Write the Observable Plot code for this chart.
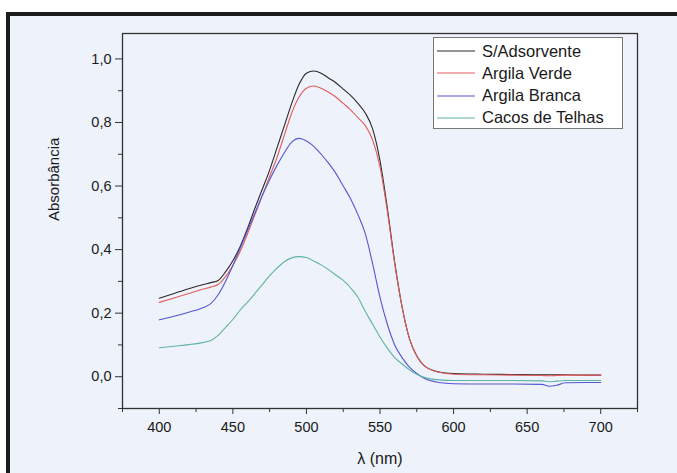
<!DOCTYPE html>
<html>
<head>
<meta charset="utf-8">
<script src="https://cdn.jsdelivr.net/npm/d3@7"></script>
<script src="https://cdn.jsdelivr.net/npm/@observablehq/plot@0.6"></script>
<style>
  html, body { margin: 0; padding: 0; background: #eef2fa; overflow: hidden; width: 677px; height: 473px; }
  #wrap { position: relative; width: 677px; height: 473px; overflow: hidden; font-family: "Liberation Sans", Arial, sans-serif; background: #eef2fa; }
  .white { position: absolute; background: #ffffff; }
  .black { position: absolute; background: #1c1c1c; }
  .cover { position: absolute; background: #eef2fa; z-index: 5; }
  #chart { position: absolute; left: 0; top: 0; }
  #legend { position: absolute; left: 433px; top: 37px; width: 188px; height: 90px; border: 1px solid #777; background: #ffffff; }
  .row { position: absolute; left: 0; height: 22px; display: flex; align-items: center; }
  .row svg { margin-left: 3px; }
  .row span { margin-left: 7px; font-size: 16.5px; color: #1a1a1a; white-space: nowrap; }
  .ticklab text { font-size: 14.5px; }
</style>
</head>
<body>
<div id="wrap">
  <div class="white" style="left:0;top:0;width:677px;height:12px"></div>
  <div class="white" style="left:0;top:0;width:6px;height:473px"></div>
  <div class="black" style="left:6px;top:12px;width:671px;height:4px"></div>
  <div class="black" style="left:6px;top:12px;width:4px;height:461px"></div>
  <div id="chart"></div>
  <div id="legend"></div>
  <div class="cover" style="left:650px;top:16px;width:27px;height:457px"></div>
</div>
<script>
const lambda = [400,410,420,430,435,440,445,450,455,460,465,470,475,480,485,490,495,500,505,510,515,520,525,530,535,540,545,550,555,560,565,570,575,580,590,600,620,640,660,665,670,676,690,700];
const sAdsorvente = [0.247,0.262,0.277,0.290,0.296,0.303,0.330,0.365,0.410,0.467,0.530,0.590,0.650,0.720,0.790,0.860,0.920,0.955,0.962,0.955,0.940,0.925,0.905,0.885,0.860,0.830,0.780,0.680,0.530,0.360,0.220,0.120,0.065,0.035,0.015,0.010,0.008,0.007,0.006,0.006,0.006,0.006,0.005,0.005];
const argilaVerde = [0.234,0.248,0.262,0.276,0.282,0.290,0.315,0.350,0.395,0.450,0.510,0.570,0.630,0.690,0.760,0.830,0.880,0.908,0.915,0.908,0.895,0.880,0.860,0.840,0.815,0.790,0.745,0.660,0.520,0.355,0.220,0.120,0.065,0.035,0.014,0.008,0.006,0.005,0.004,0.003,0.004,0.005,0.005,0.005];
const argilaBranca = [0.179,0.190,0.203,0.218,0.230,0.258,0.300,0.350,0.405,0.460,0.515,0.570,0.620,0.665,0.705,0.738,0.750,0.742,0.725,0.700,0.672,0.640,0.600,0.560,0.510,0.450,0.355,0.250,0.165,0.100,0.060,0.030,0.010,-0.005,-0.018,-0.022,-0.023,-0.023,-0.024,-0.030,-0.027,-0.019,-0.018,-0.018];
const cacosTelhas = [0.091,0.096,0.101,0.108,0.114,0.130,0.155,0.180,0.210,0.235,0.262,0.290,0.318,0.342,0.362,0.374,0.378,0.375,0.364,0.352,0.337,0.320,0.303,0.280,0.250,0.205,0.165,0.125,0.090,0.060,0.040,0.022,0.008,-0.002,-0.010,-0.012,-0.012,-0.012,-0.013,-0.016,-0.014,-0.012,-0.012,-0.012];

const seriesNames = ["S/Adsorvente", "Argila Verde", "Argila Branca", "Cacos de Telhas"];
const seriesColors = ["#2a2a2a", "#e45c5c", "#5656d4", "#5fb2a6"];
const seriesValues = [sAdsorvente, argilaVerde, argilaBranca, cacosTelhas];

const xMajor = [400, 450, 500, 550, 600, 650, 700];
const xMinor = [375, 425, 475, 525, 575, 625, 675, 725];
const yMajor = [0, 0.2, 0.4, 0.6, 0.8, 1.0];
const yMinor = [-0.1, 0.1, 0.3, 0.5, 0.7, 0.9];

const rows = [];
seriesValues.forEach((vals, i) => {
  lambda.forEach((l, j) => rows.push({serie: seriesNames[i], lambda: l, abs: vals[j]}));
});

const fmt = d => d.toFixed(1).replace(".", ",");

const plot = Plot.plot({
  width: 677,
  height: 473,
  marginLeft: 122,
  marginRight: 40,
  marginTop: 33,
  marginBottom: 65,
  style: {background: "transparent", fontFamily: "'Liberation Sans', Arial, sans-serif", fontSize: "14px", color: "#1a1a1a"},
  x: {domain: [375, 725]},
  y: {domain: [-0.1, 1.08]},
  color: {domain: seriesNames, range: seriesColors},
  marks: [
    Plot.line(rows, {x: "lambda", y: "abs", z: "serie", stroke: "serie", strokeWidth: 1.1, curve: "monotone-x"}),
    Plot.frame({stroke: "#333", strokeWidth: 1.3}),
    Plot.axisX({ticks: xMajor, tickSize: 6, tickPadding: 7, tickFormat: d => String(d), label: null, stroke: "#333", fill: "#1a1a1a", className: "ticklab"}),
    Plot.axisX({ticks: xMinor, tickSize: 4, text: null, label: null, stroke: "#333"}),
    Plot.axisY({ticks: yMajor, tickSize: 7, tickPadding: 4, tickFormat: fmt, label: null, stroke: "#333", fill: "#1a1a1a", className: "ticklab"}),
    Plot.axisY({ticks: yMinor, tickSize: 4, text: null, label: null, stroke: "#333"}),
    Plot.text(["λ (nm)"], {frameAnchor: "bottom", dy: 55, fontSize: 16, fill: "#1a1a1a"}),
    Plot.text(["Absorbância"], {frameAnchor: "left", dx: -68, rotate: -90, fontSize: 15, fill: "#1a1a1a"})
  ]
});
document.getElementById("chart").appendChild(plot);

const legend = document.getElementById("legend");
seriesNames.forEach((name, i) => {
  const row = document.createElement("div");
  row.className = "row";
  row.style.top = (2 + i * 22.3) + "px";
  row.innerHTML = `<svg width="38" height="4"><line x1="0" y1="2" x2="38" y2="2" stroke="${seriesColors[i]}" stroke-width="1.1"/></svg><span>${name}</span>`;
  legend.appendChild(row);
});
</script>
</body>
</html>
